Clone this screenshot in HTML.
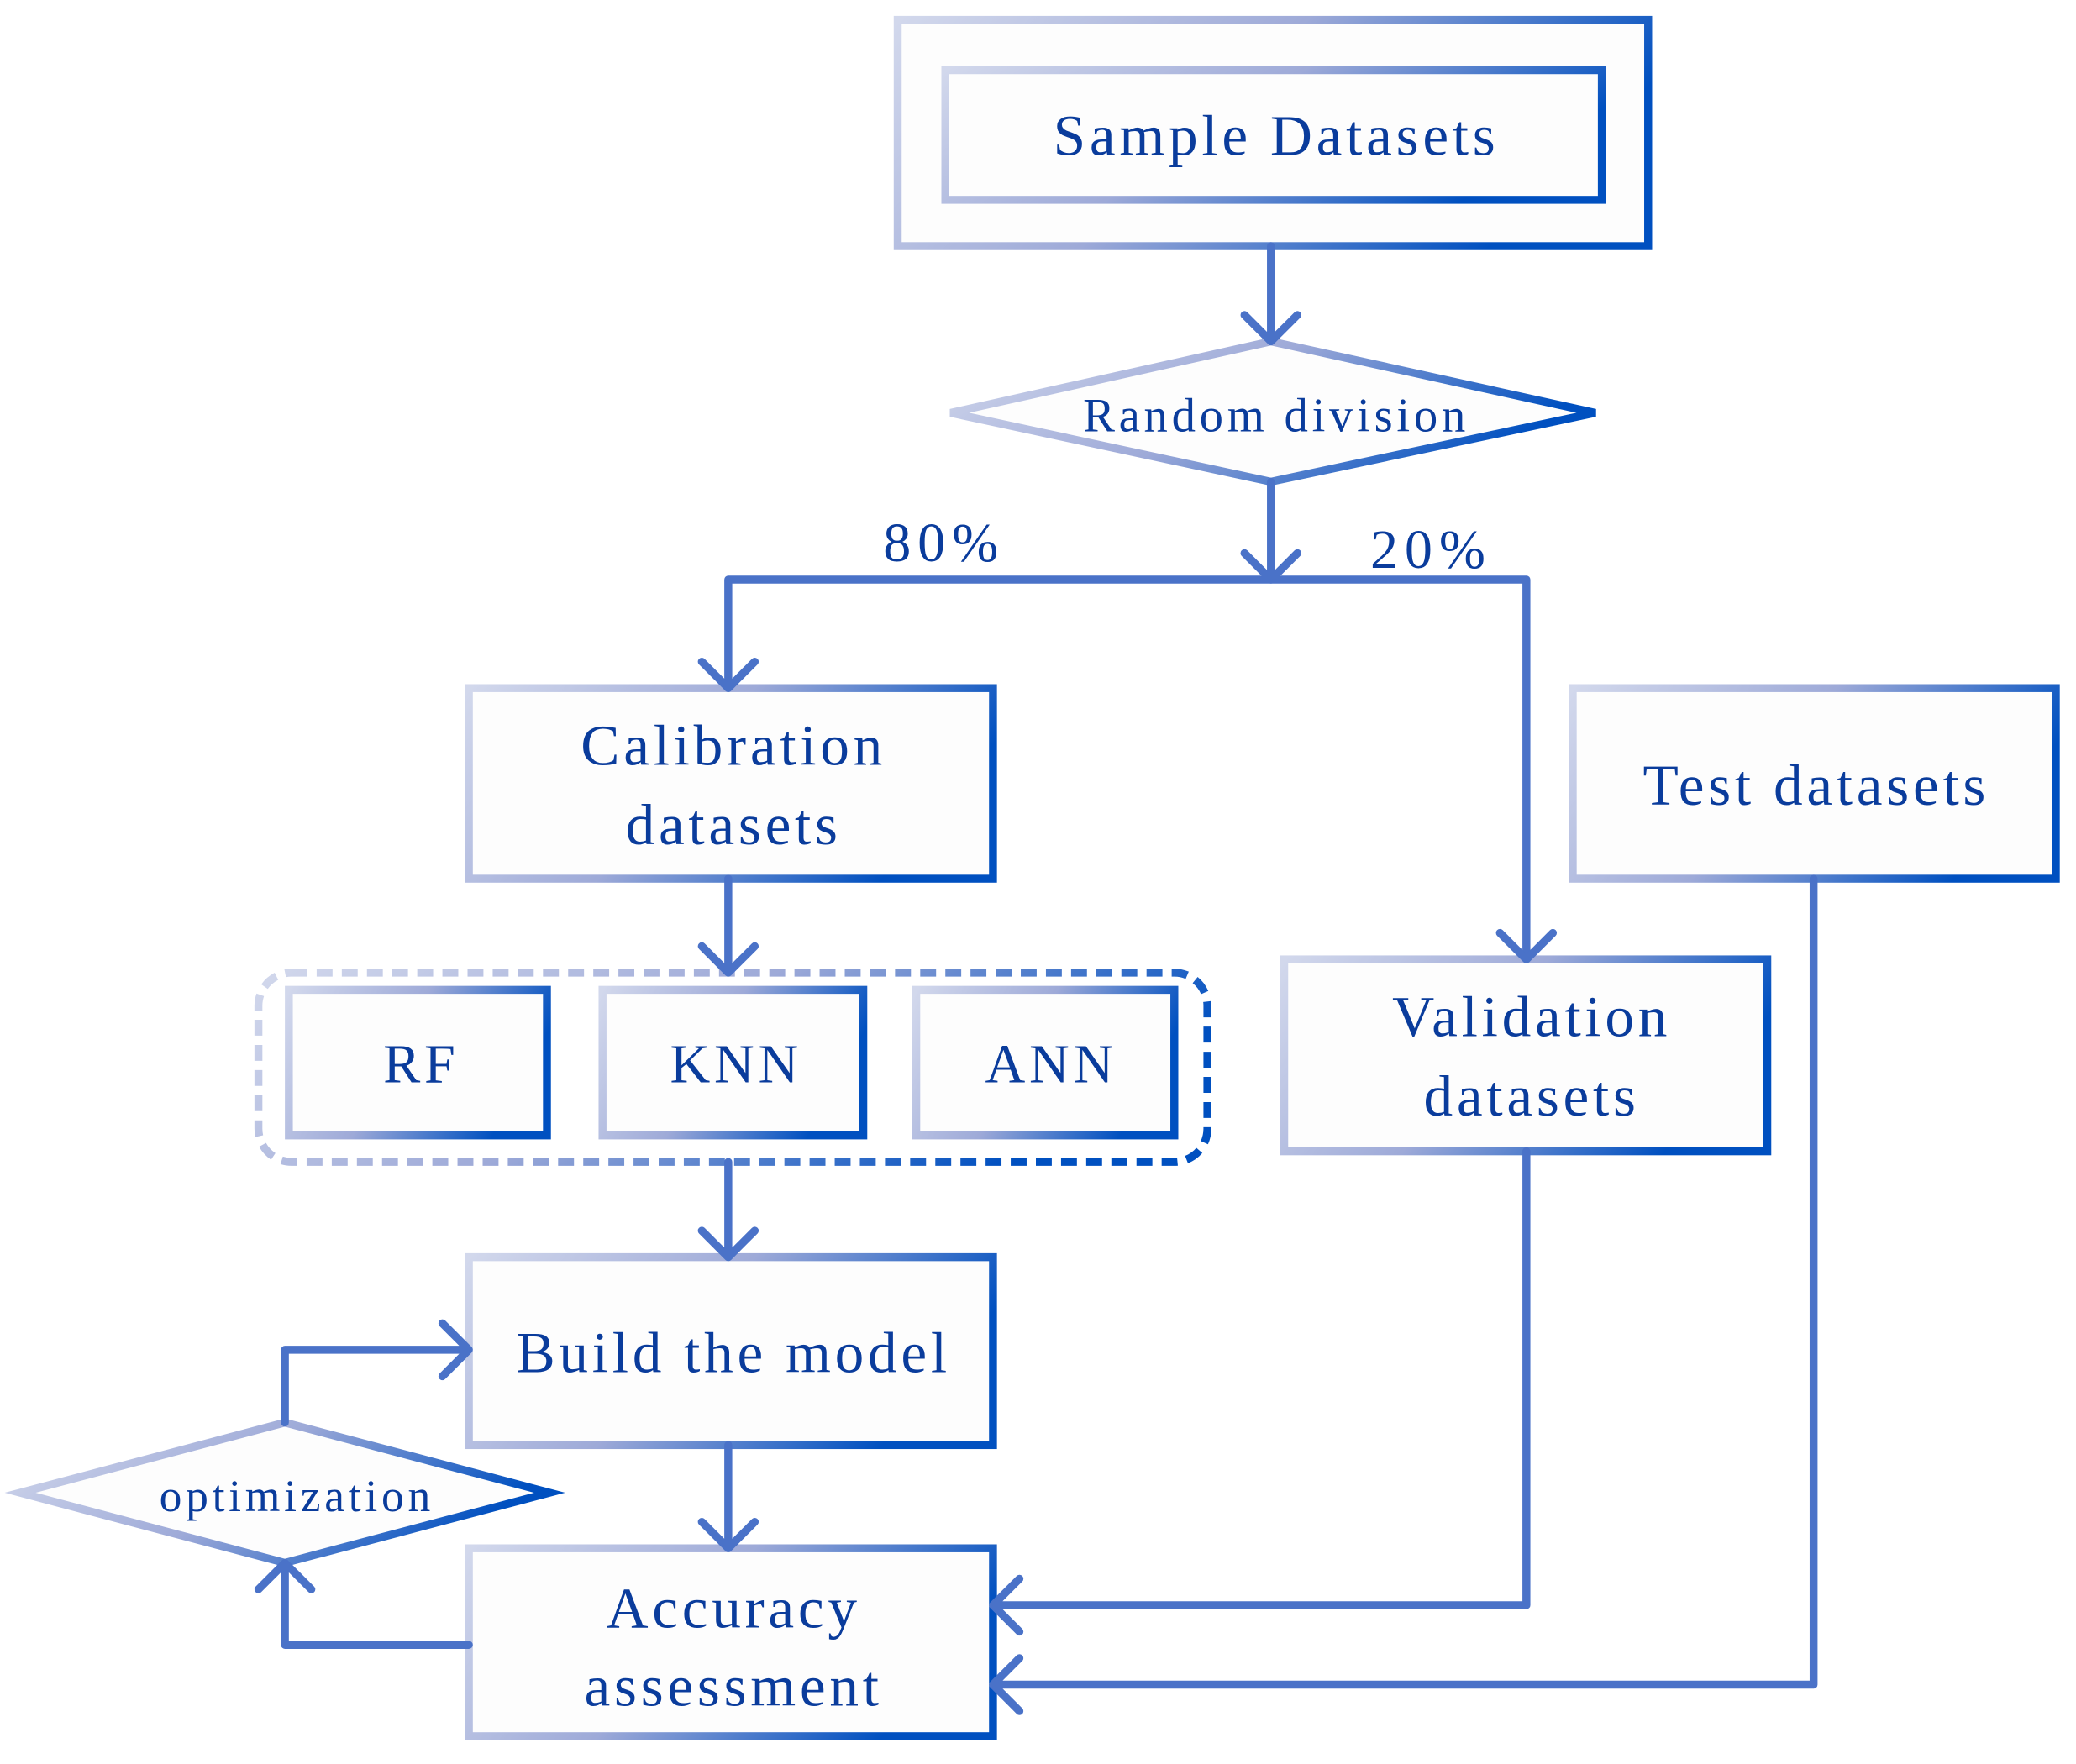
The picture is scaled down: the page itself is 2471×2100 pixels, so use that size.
<!DOCTYPE html>
<html><head><meta charset="utf-8"><style>html,body{margin:0;padding:0;background:#fff}svg{display:block}</style></head>
<body>
<svg width="2471" height="2100" viewBox="0 0 1568 1333" xmlns="http://www.w3.org/2000/svg">
<defs>
<linearGradient id="g" x1="0" y1="0" x2="1" y2="0.3">
<stop offset="0" stop-color="#d2d8ec"/><stop offset="0.5" stop-color="#9eaad8"/><stop offset="1" stop-color="#0050c0"/>
</linearGradient>
</defs>
<g fill="#fdfdfd" stroke="url(#g)" stroke-width="6">
<rect x="678" y="15" width="567" height="171"/>
<rect x="714" y="53" width="496" height="98"/>
<polygon points="718,312 960,258 1205,312 960,364"/>
<rect x="354" y="520" width="396" height="144"/>
<rect x="970" y="725" width="365" height="145"/>
<rect x="1188" y="520" width="365" height="144"/>
<rect x="195" y="735" width="717" height="143" rx="25" fill="none" stroke-dasharray="12,7"/>
<rect x="218" y="748" width="195" height="110"/>
<rect x="455" y="748" width="197" height="110"/>
<rect x="692" y="748" width="195" height="110"/>
<rect x="354" y="950" width="396" height="142"/>
<rect x="354" y="1170" width="396" height="142"/>
<polygon points="15,1128 215,1075 415,1128 215,1181"/>
</g>
<g fill="none" stroke="#4a72c8" stroke-width="6" stroke-linecap="round" stroke-linejoin="round">
<path d="M960 186V256M940 238L960 258L980 238"/>
<path d="M960 364V436M940 418L960 438L980 418"/>
<path d="M550 520V438H1153V723"/>
<path d="M530 500L550 520L570 500M1133 705L1153 725L1173 705"/>
<path d="M550 664V733M530 715L550 735L570 715"/>
<path d="M550 878V948M530 930L550 950L570 930"/>
<path d="M550 1092V1168M530 1150L550 1170L570 1150"/>
<path d="M1153 870V1213H752M770 1193L750 1213L770 1233"/>
<path d="M1370 664V1273H752M770 1253L750 1273L770 1293"/>
<path d="M354 1243H215V1183M195 1201L215 1181L235 1201"/>
<path d="M215 1075V1020H352M334 1000L354 1020L334 1040"/>
</g>
<g fill="#0a3c9c" font-family="Liberation Serif, serif" text-anchor="middle" letter-spacing="3">
<text x="964" y="117" font-size="44">Sample Datasets</text>
<text x="964" y="326" font-size="36">Random division</text>
<text x="713" y="424" font-size="42" letter-spacing="5">80%</text>
<text x="1081" y="429" font-size="42" letter-spacing="5">20%</text>
<text x="554" y="578" font-size="44">Calibration</text>
<text x="554" y="638" font-size="44">datasets</text>
<text x="1157" y="783" font-size="44">Validation</text>
<text x="1157" y="843" font-size="44">datasets</text>
<text x="1372" y="608" font-size="44">Test datasets</text>
<text x="318" y="818" font-size="42">RF</text>
<text x="556" y="818" font-size="42">KNN</text>
<text x="794" y="818" font-size="42">ANN</text>
<text x="554" y="1037" font-size="44">Build the model</text>
<text x="554" y="1230" font-size="44">Accuracy</text>
<text x="554" y="1289" font-size="44">assessment</text>
<text x="224" y="1142" font-size="34">optimization</text>
</g>
</svg>
</body></html>
